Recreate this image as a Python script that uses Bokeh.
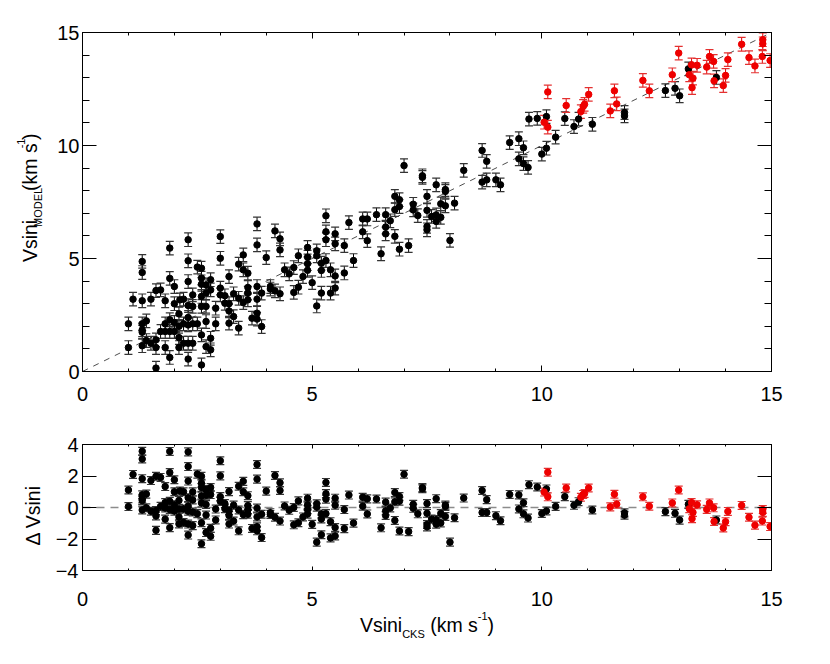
import numpy as np
from bokeh.plotting import figure
from bokeh.models import (ColumnDataSource, Whisker, TeeHead, LinearAxis,
                          SingleIntervalTicker, Range1d, Span, Slope)
from bokeh.core.properties import value
from bokeh.layouts import column, row
from bokeh.embed import file_html
from bokeh.resources import INLINE

# ---------------- data ----------------
black_cks = [1.00, 1.00, 1.10,
             1.30, 1.30, 1.30, 1.30, 1.30, 1.30, 1.30,
             1.39, 1.39, 1.49, 1.49,
             1.60, 1.60, 1.60, 1.60, 1.70, 1.70,
             1.80, 1.80, 1.80, 1.80,
             1.90, 1.90, 1.90, 1.90, 1.90,
             2.00, 2.00, 2.00, 2.00,
             2.10, 2.10, 2.10, 2.10, 2.12,
             2.20, 2.20, 2.20,
             2.30, 2.30, 2.30, 2.30, 2.30, 2.30, 2.30, 2.30,
             2.40, 2.40, 2.40, 2.40,
             2.50, 2.50,
             2.59, 2.59, 2.59, 2.59, 2.59, 2.59, 2.59,
             2.69, 2.69, 2.69, 2.69, 2.69,
             2.79, 2.79, 2.79, 2.79,
             2.90, 2.90,
             3.00, 3.00, 3.00, 3.00,
             3.10, 3.10,
             3.19, 3.19, 3.19, 3.19,
             3.29, 3.29,
             3.40, 3.40, 3.40,
             3.50, 3.50, 3.50,
             3.60, 3.60, 3.60, 3.60,
             3.69,
             3.80, 3.80, 3.80, 3.80, 3.80, 3.80,
             3.90, 3.90,
             4.00, 4.09, 4.09, 4.19, 4.19,
             4.30, 4.30, 4.30,
             4.40, 4.50, 4.60, 4.60, 4.70, 4.70, 4.80,
             4.90, 4.90, 4.90, 4.90,
             5.00, 5.10, 5.10, 5.10,
             5.20, 5.20, 5.20,
             5.30, 5.30, 5.30, 5.30,
             5.40, 5.40,
             5.50, 5.50, 5.50, 5.50,
             5.70, 5.70, 5.80, 5.90,
             6.10, 6.10, 6.20, 6.20, 6.40, 6.50,
             6.60, 6.60, 6.60, 6.70,
             6.80, 6.80, 6.80, 6.90, 6.90, 6.90,
             7.00, 7.10, 7.20, 7.20, 7.30, 7.40, 7.40,
             7.50, 7.50, 7.50, 7.50, 7.60,
             7.70, 7.70, 7.70, 7.80, 7.80,
             7.90, 7.90, 7.90, 8.00, 8.10, 8.30,
             8.70, 8.70, 8.80, 8.80, 9.00, 9.10, 9.30,
             9.50, 9.50, 9.60, 9.60, 9.70, 9.72, 9.90,
             10.00, 10.10, 10.10, 10.30, 10.50, 10.70, 10.80, 11.10,
             11.80, 11.80, 12.69, 12.90, 13.00, 13.19, 13.80]
black_model = [2.11, 1.06, 3.20,
               4.87, 4.38, 3.13, 2.11, 1.84, 1.74, 1.14,
               2.24, 1.37, 3.20, 1.25,
               3.58, 1.40, 1.06, 0.15, 3.61, 1.77,
               3.13, 2.11, 1.77, 1.06,
               5.46, 4.12, 2.29, 1.77, 0.62,
               3.76, 3.00, 2.17, 1.77,
               2.55, 2.00, 1.50, 1.06, 3.17,
               3.20, 2.11, 1.25,
               5.83, 4.90, 3.98, 2.92, 2.39, 2.06, 1.25, 0.55,
               3.39, 2.88, 2.11, 1.25,
               4.62, 2.11,
               4.57, 4.13, 3.86, 3.32, 2.88, 1.62, 0.29,
               3.83, 3.47, 2.88, 2.21, 1.10,
               4.06, 3.61, 1.47, 0.96,
               2.80, 2.11,
               5.97, 5.01, 3.69, 3.39,
               3.35, 3.02,
               4.20, 3.00, 2.68, 2.14,
               3.44, 2.43,
               4.75, 3.24, 1.92,
               5.16, 4.50, 3.05,
               4.35, 3.72, 3.47, 3.17,
               2.36,
               6.53, 5.60, 3.76, 3.20, 2.58, 2.32,
               3.47, 1.99,
               5.04, 3.76, 3.65, 6.22, 3.57,
               5.87, 5.38, 3.44,
               4.50, 4.32, 4.60, 3.50, 5.12, 3.73, 4.20,
               5.49, 5.06, 4.77, 4.48,
               3.93, 5.34, 5.12, 2.90,
               4.79, 4.47, 3.47,
               6.89, 6.18, 5.83, 4.91,
               4.50, 3.47,
               6.09, 5.65, 4.23, 3.69,
               5.57, 4.36, 6.59, 4.91,
               6.75, 6.18, 6.75, 5.79, 6.94, 5.21,
               6.94, 6.39, 6.09, 6.67,
               7.75, 7.16, 5.98, 7.60, 7.30, 5.41,
               9.11, 5.57, 7.40, 7.15, 6.90, 8.66, 8.59,
               7.75, 7.13, 6.42, 6.27, 6.86,
               8.26, 6.93, 6.64, 7.42, 6.82,
               8.05, 7.97, 7.33, 5.80, 7.45, 8.90,
               9.78, 8.38, 9.30, 8.48, 8.48, 8.26, 10.13,
               10.30, 9.41, 9.90, 9.20, 9.03, 11.17, 11.20,
               9.62, 9.88, 11.28, 10.37, 11.19, 10.84, 11.17, 10.94,
               11.46, 11.31, 12.43, 12.53, 12.20, 13.39, 13.01]

red_cks = [10.05, 10.13, 10.13, 10.53, 10.85, 10.90, 10.93, 11.02,
           11.49, 11.58, 11.63, 12.20, 12.34, 12.84, 12.98,
           13.21, 13.26, 13.29, 13.27, 13.38, 13.59, 13.65, 13.74, 13.75,
           13.95, 14.00, 14.05, 14.35, 14.51, 14.64, 14.81, 14.81, 14.80, 14.97]
red_model = [11.03, 10.81, 12.37, 11.77, 11.50, 11.73, 11.82, 12.26,
             11.53, 12.42, 11.84, 12.88, 12.42, 13.13, 14.09,
             13.13, 13.57, 12.98, 12.56, 13.55, 13.47, 13.94, 13.72, 12.86,
             12.65, 13.10, 13.80, 14.48, 13.89, 13.52, 14.68, 14.50, 13.94, 13.76]

err_model = 0.3    # half-length of the error bars, km/s
err_delta = 0.25

x_range_vals = (0, 15)
top_y_range = (0, 15)
bot_y_range = (-4, 4)
x_tick_values = [0, 5, 10, 15]
x_tick_labels = ["0", "5", "10", "15"]

FONT = "Liberation Sans"
FS_TICK = 20
F_MAIN = 19.5
F_SMALL = 11
FIX_H = 0.35     # empirical baseline correction for horizontal text (x font size)
FIX_V = 0.33     # same for rotated text

# ---------------- geometry (pixels) ----------------
PAGE_Y0 = 1                   # page row where the layout starts
FRAME_W = 689
TOP_FRAME_H = 339
BOT_FRAME_H = 126
TITLE_W = 45                  # strip on the left that holds the y titles
B_LEFT, B_RIGHT = 37, 36      # borders of the plot figures (inside the row)
T1_TOP, T1_BOT = 32, 40
T2_TOP, T2_BOT = 33, 12
XT_H = 70                     # strip below that holds x tick labels and title
H1 = T1_TOP + TOP_FRAME_H + T1_BOT
H2 = T2_TOP + BOT_FRAME_H + T2_BOT
FULL_W = TITLE_W + B_LEFT + FRAME_W + B_RIGHT
XT_TOP = PAGE_Y0 + H1 + H2    # page row where the x strip starts

# ---------------- helpers ----------------
ADV = {'V': 667, 's': 500, 'i': 222, 'n': 556, ' ': 278, '(': 333, ')': 333,
       'k': 500, 'm': 833, 'M': 833, 'O': 778, 'D': 722, 'E': 667, 'L': 556,
       'C': 722, 'K': 667, 'S': 667, '-': 333, '1': 556}


def tw(t, size):
    return sum(ADV.get(c, 556) for c in t) * size / 1000.0


def place(pieces):
    """returns (text, size, shift, offset_of_piece_centre_from_title_centre)"""
    total = sum(tw(t, s) for t, s, _ in pieces)
    pos = -total / 2.0
    out = []
    for t, s, sh in pieces:
        w = tw(t, s)
        if t.strip():
            out.append((t, s, sh, pos + w / 2.0))
        pos += w
    return out


def blank_fig(w, h, xr, yr):
    p = figure(width=w, height=h, x_range=Range1d(*xr), y_range=Range1d(*yr),
               output_backend="svg", toolbar_location=None,
               x_axis_location=None, y_axis_location=None,
               min_border_left=0, min_border_right=0, min_border_top=0, min_border_bottom=0)
    p.grid.visible = False
    p.outline_line_color = None
    p.background_fill_color = "white"
    p.border_fill_color = "white"
    return p


def style_axis(ax, major_in, minor_in, show_labels=True, standoff=6):
    ax.axis_line_color = "black"
    ax.axis_line_width = 1
    ax.major_tick_in = major_in
    ax.major_tick_out = 0
    ax.minor_tick_in = minor_in
    ax.minor_tick_out = 0
    ax.major_tick_line_color = "black"
    ax.minor_tick_line_color = "black" if minor_in > 0 else None
    ax.major_label_text_font = FONT
    ax.major_label_standoff = standoff
    if show_labels:
        ax.major_label_text_font_size = f"{FS_TICK}px"
        ax.major_label_text_color = "black"
    else:
        ax.major_label_text_font_size = "1px"
        ax.major_label_text_color = None
        ax.major_label_standoff = 0


def add_errors(p, xs, ys, err, color, cap_color):
    src = ColumnDataSource(dict(x=xs, lo=[y - err for y in ys], hi=[y + err for y in ys]))
    w = Whisker(source=src, base="x", lower="lo", upper="hi", dimension="height",
                line_color=color, line_width=1,
                upper_head=TeeHead(size=8, line_color=cap_color, line_width=1.2),
                lower_head=TeeHead(size=8, line_color=cap_color, line_width=1.2))
    p.add_layout(w)


def make_fig(yr, top, bot, frame_h):
    p = figure(width=B_LEFT + FRAME_W + B_RIGHT, height=top + frame_h + bot,
               x_range=Range1d(*x_range_vals), y_range=Range1d(*yr),
               output_backend="svg", toolbar_location=None,
               min_border_left=B_LEFT, min_border_right=B_RIGHT,
               min_border_top=top, min_border_bottom=bot)
    p.grid.visible = False
    p.outline_line_color = None
    p.background_fill_color = "white"
    p.border_fill_color = "white"
    p.add_layout(LinearAxis(), "above")
    p.add_layout(LinearAxis(), "right")
    return p


bx = np.array(black_cks)
by = np.array(black_model)
rx = np.array(red_cks)
ry = np.array(red_model)

# ---------------- top panel ----------------
p1 = make_fig(top_y_range, T1_TOP, T1_BOT, TOP_FRAME_H)
for ax in p1.xaxis:
    ax.ticker = SingleIntervalTicker(interval=5, num_minor_ticks=5)
for ax in p1.yaxis:
    ax.ticker = SingleIntervalTicker(interval=5, num_minor_ticks=5)
style_axis(p1.below[0], 6, 3, True, 15)
style_axis(p1.above[0], 6, 3, False)
style_axis(p1.left[0], 14, 7, True, 3)
style_axis(p1.right[0], 14, 7, False)

p1.add_layout(Slope(gradient=1, y_intercept=0, line_color="#3a3a3a", line_width=0.9,
                    line_dash="6 6", level="underlay"))
add_errors(p1, black_cks, black_model, err_model, "black", "#333333")
add_errors(p1, red_cks, red_model, err_model, "#e00000", "#e43030")
p1.scatter(bx, by, size=6.5, color="black")
p1.scatter(rx, ry, size=6.5, color="#ee0000")

# ---------------- bottom panel ----------------
p2 = make_fig(bot_y_range, T2_TOP, T2_BOT, BOT_FRAME_H)
for ax in p2.xaxis:
    ax.ticker = SingleIntervalTicker(interval=5, num_minor_ticks=5)
for ax in p2.yaxis:
    ax.ticker = SingleIntervalTicker(interval=2, num_minor_ticks=0)
style_axis(p2.below[0], 4, 2, False)
style_axis(p2.above[0], 4, 2, False)
style_axis(p2.left[0], 14, 0, True, 4)
style_axis(p2.right[0], 14, 0, False)

p2.add_layout(Span(location=0, dimension="width", line_color="#8c8c8c", line_width=1.4,
                   line_dash="8 6", level="underlay"))
bd = by - bx
rd = ry - rx
add_errors(p2, black_cks, list(bd), err_delta, "black", "#333333")
add_errors(p2, red_cks, list(rd), err_delta, "#e00000", "#e43030")
p2.scatter(bx, bd, size=6.5, color="black")
p2.scatter(rx, rd, size=6.5, color="#ee0000")

# ---------------- y title strips (pixel coordinates) ----------------
yl1 = blank_fig(TITLE_W, H1, (0, TITLE_W), (0, H1))
base_x1 = TITLE_W - 9                       # baseline of the rotated title
centre_y1 = T1_BOT + TOP_FRAME_H / 2 + 3
pcs = place([("Vsini", F_MAIN, 0), ("MODEL", F_SMALL, -5.5), (" ", F_MAIN, 0),
             ("(km s", F_MAIN, 0), ("-1", F_SMALL, 12), (")", F_MAIN, 0)])
s1 = ColumnDataSource(dict(x=[base_x1 - sh - FIX_V * s for _, s, sh, _ in pcs],
                           y=[centre_y1 + off for _, _, _, off in pcs],
                           text=[t for t, _, _, _ in pcs],
                           size=[f"{s}px" for _, s, _, _ in pcs]))
yl1.text(x="x", y="y", text="text", source=s1, text_font=value(FONT), text_font_size="size",
         text_color="black", angle=np.pi / 2, text_align="center", text_baseline="alphabetic")

yl2 = blank_fig(TITLE_W, H2, (0, TITLE_W), (0, H2))
s2 = ColumnDataSource(dict(x=[TITLE_W - 6 - FIX_V * F_MAIN], y=[T2_BOT + BOT_FRAME_H / 2],
                           text=["Δ Vsini"]))
yl2.text(x="x", y="y", text="text", source=s2, text_font=value(FONT),
         text_font_size=value(f"{F_MAIN}px"), text_color="black", angle=np.pi / 2,
         text_align="center", text_baseline="alphabetic")

# ---------------- x tick labels and x title strip ----------------
dx = (x_range_vals[1] - x_range_vals[0]) / FRAME_W
xl = blank_fig(FULL_W, XT_H,
               (x_range_vals[0] - (TITLE_W + B_LEFT) * dx, x_range_vals[1] + B_RIGHT * dx),
               (0, XT_H))
tick_base = XT_H - (606.7 - XT_TOP)
st = ColumnDataSource(dict(x=x_tick_values,
                           y=[tick_base + FIX_H * FS_TICK] * len(x_tick_values),
                           text=x_tick_labels))
xl.text(x="x", y="y", text="text", source=st, text_font=value(FONT),
        text_font_size=value(f"{FS_TICK}px"), text_color="black",
        text_align="center", text_baseline="alphabetic")
pcs = place([("Vsini", F_MAIN, 0), ("CKS", F_SMALL, -5.5), (" ", F_MAIN, 0),
             ("(km s", F_MAIN, 0), ("-1", F_SMALL, 12), (")", F_MAIN, 0)])
cx = 0.5 * (x_range_vals[0] + x_range_vals[1])
base_y = XT_H - (632.7 - XT_TOP)
s3 = ColumnDataSource(dict(x=[cx + off * dx for _, _, _, off in pcs],
                           y=[base_y + sh + FIX_H * s for _, s, sh, _ in pcs],
                           text=[t for t, _, _, _ in pcs],
                           size=[f"{s}px" for _, s, _, _ in pcs]))
xl.text(x="x", y="y", text="text", source=s3, text_font=value(FONT), text_font_size="size",
        text_color="black", text_align="center", text_baseline="alphabetic")

layout = column(row(yl1, p1, spacing=0), row(yl2, p2, spacing=0), xl, spacing=0)
open("out.html", "w").write(file_html(layout, INLINE))
